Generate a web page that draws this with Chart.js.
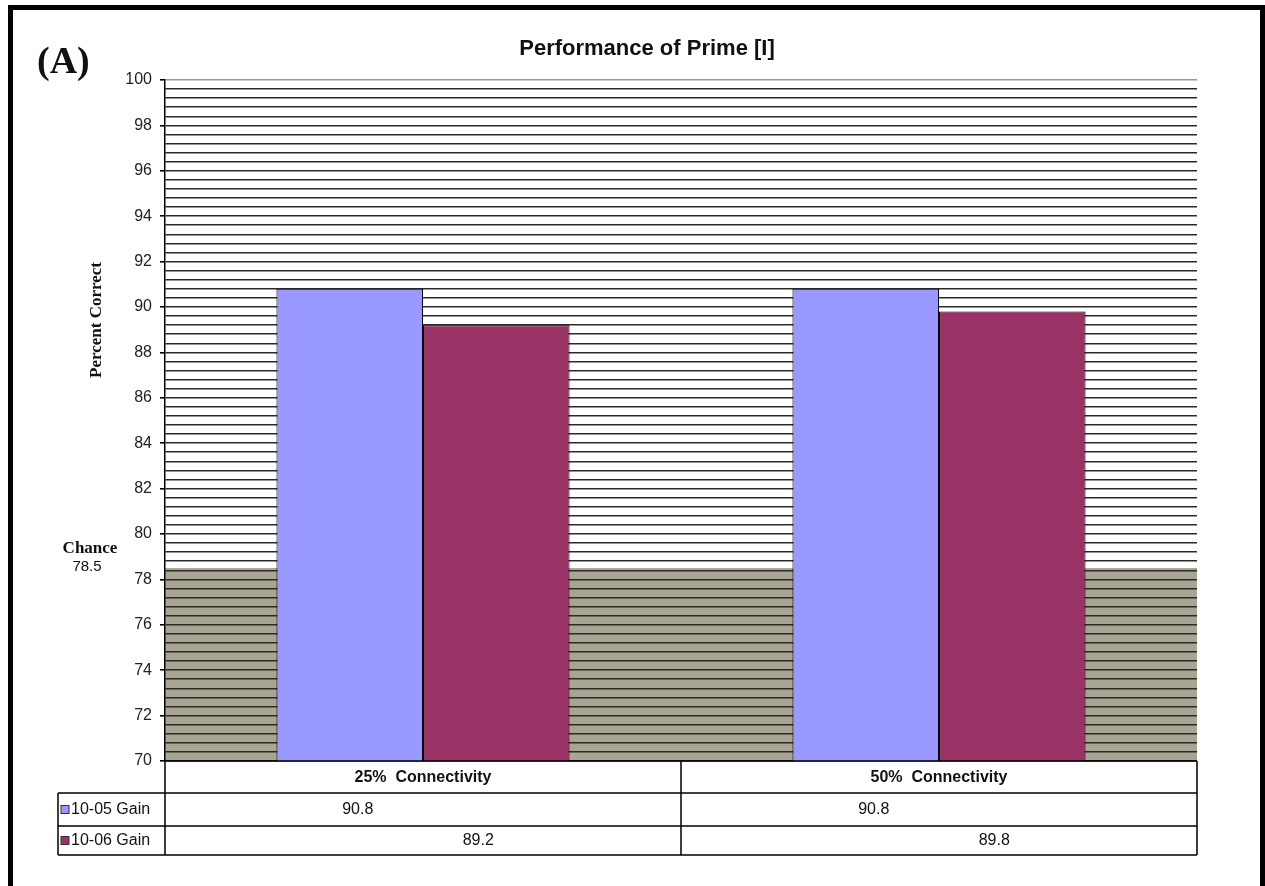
<!DOCTYPE html>
<html>
<head>
<meta charset="utf-8">
<script src="https://cdn.jsdelivr.net/npm/chart.js@4.4.1/dist/chart.umd.min.js"></script>
<style>
  html, body { margin: 0; padding: 0; background: #fff; overflow: hidden; }
  #wrap { position: relative; width: 1265px; height: 886px; }
  #frame { position: absolute; left: 8px; top: 5px; right: 0; bottom: 0;
           border: 5px solid #000; border-bottom: none; pointer-events: none; }
</style>
</head>
<body>
<div id="wrap">
  <canvas id="primeChart"></canvas>
  <div id="frame"></div>
</div>
<script>
// data
const categories = ['25%  Connectivity', '50%  Connectivity'];
const seriesNames = ['10-05 Gain', '10-06 Gain'];
const gain1005 = [90.8, 90.8];
const gain1006 = [89.2, 89.8];
const chanceLevel = 78.5;
const tickLabels = [70, 72, 74, 76, 78, 80, 82, 84, 86, 88, 90, 92, 94, 96, 98, 100];

const colors = ['#9999ff', '#993366'];
const sans = '"Liberation Sans", Arial, sans-serif';
const serif = '"Liberation Serif", "Times New Roman", serif';

function isLabelled(v) {
  return tickLabels.includes(Math.round(v * 10) / 10);
}

// shaded chance band, data table, and loose labels
const extras = {
  id: 'extras',
  beforeDraw(chart) {
    const { ctx, chartArea: a, scales: { y } } = chart;
    const top = y.getPixelForValue(chanceLevel);
    ctx.save();
    ctx.fillStyle = '#a8a693';
    ctx.fillRect(a.left, top, a.right - a.left, a.bottom - top);
    ctx.restore();
  },
  afterDraw(chart) {
    const { ctx, chartArea: a, scales: { x } } = chart;
    const rows = [a.bottom, a.bottom + 32, a.bottom + 65, a.bottom + 94];
    const legendLeft = 58;
    const mid = (x.getPixelForValue(0) + x.getPixelForValue(1)) / 2;
    const values = [gain1005, gain1006];

    ctx.save();
    ctx.strokeStyle = '#000';
    ctx.lineWidth = 1.5;
    ctx.beginPath();
    ctx.moveTo(a.left, rows[0]); ctx.lineTo(a.right, rows[0]);
    for (let r = 1; r < rows.length; r++) {
      ctx.moveTo(legendLeft, rows[r]); ctx.lineTo(a.right, rows[r]);
    }
    ctx.moveTo(legendLeft, rows[1]); ctx.lineTo(legendLeft, rows[3]);
    [a.left, mid, a.right].forEach(px => {
      ctx.moveTo(px, rows[0]); ctx.lineTo(px, rows[3]);
    });
    ctx.stroke();

    ctx.fillStyle = '#111';
    ctx.textBaseline = 'middle';
    ctx.textAlign = 'center';
    ctx.font = 'bold 16px ' + sans;
    categories.forEach((c, i) => {
      ctx.fillText(c, x.getPixelForValue(i), (rows[0] + rows[1]) / 2 + 1);
    });

    ctx.font = '16px ' + sans;
    values.forEach((vals, d) => {
      const meta = chart.getDatasetMeta(d);
      const cy = (rows[d + 1] + rows[d + 2]) / 2;
      vals.forEach((v, i) => {
        const shift = d === 0 ? 8 : -18;
        ctx.fillText(v.toFixed(1), meta.data[i].x + shift, cy);
      });
      ctx.fillStyle = colors[d];
      ctx.fillRect(legendLeft + 3, cy - 4, 8, 8);
      ctx.strokeStyle = '#333';
      ctx.lineWidth = 1;
      ctx.strokeRect(legendLeft + 3, cy - 4, 8, 8);
      ctx.fillStyle = '#111';
      ctx.textAlign = 'left';
      ctx.fillText(seriesNames[d], legendLeft + 13, cy);
      ctx.textAlign = 'center';
    });

    // title and panel letter
    ctx.font = 'bold 22px ' + sans;
    ctx.fillText('Performance of Prime [I]', 647, 49);
    ctx.font = 'bold 38px ' + serif;
    ctx.textAlign = 'left';
    ctx.fillText('(A)', 37, 63);

    // y axis title, placed higher than centre as in the original
    ctx.save();
    ctx.translate(97, 320);
    ctx.rotate(-Math.PI / 2);
    ctx.textAlign = 'center';
    ctx.font = 'bold 17px ' + serif;
    ctx.fillText('Percent Correct', 0, 0);
    ctx.restore();

    ctx.textAlign = 'center';
    ctx.font = 'bold 17px ' + serif;
    ctx.fillText('Chance', 90, 549);
    ctx.font = '15px ' + sans;
    ctx.fillText(String(chanceLevel), 87, 567);
    ctx.restore();
  }
};

const ctx = document.getElementById('primeChart').getContext('2d');
const primeChart = new Chart(ctx, {
  type: 'bar',
  data: {
    labels: categories,
    datasets: [
      { label: seriesNames[0], data: gain1005, backgroundColor: colors[0] },
      { label: seriesNames[1], data: gain1006, backgroundColor: colors[1] },
    ],
  },
  options: {
    responsive: true,
    maintainAspectRatio: false,
    animation: false,
    layout: { padding: { left: 0, top: 80, right: 68, bottom: 125 } },
    datasets: {
      bar: { borderColor: '#000', borderWidth: 1, borderSkipped: false,
             categoryPercentage: 0.568, barPercentage: 1 },
    },
    plugins: {
      legend: { display: false },
      title: { display: false },
      tooltip: { enabled: false },
    },
    scales: {
      x: { display: false },
      y: {
        min: 70,
        max: 100,
        afterFit(scale) { scale.width = 165; },
        border: { color: '#000', width: 1.5 },
        grid: {
          color: c => (c.tick && c.tick.value === 100 ? '#999' : '#2a2a2a'),
          lineWidth: 1.6,
          tickLength: 5,
          tickColor: c => (c.tick && isLabelled(c.tick.value) ? '#000' : 'rgba(0,0,0,0)'),
        },
        ticks: {
          stepSize: 0.4,
          maxTicksLimit: 200,
          autoSkip: false,
          padding: 8,
          color: '#222',
          font: { family: sans, size: 16 },
          callback: v => (isLabelled(v) ? String(Math.round(v)) : ''),
        },
      },
    },
  },
  plugins: [extras],
});
</script>
</body>
</html>
